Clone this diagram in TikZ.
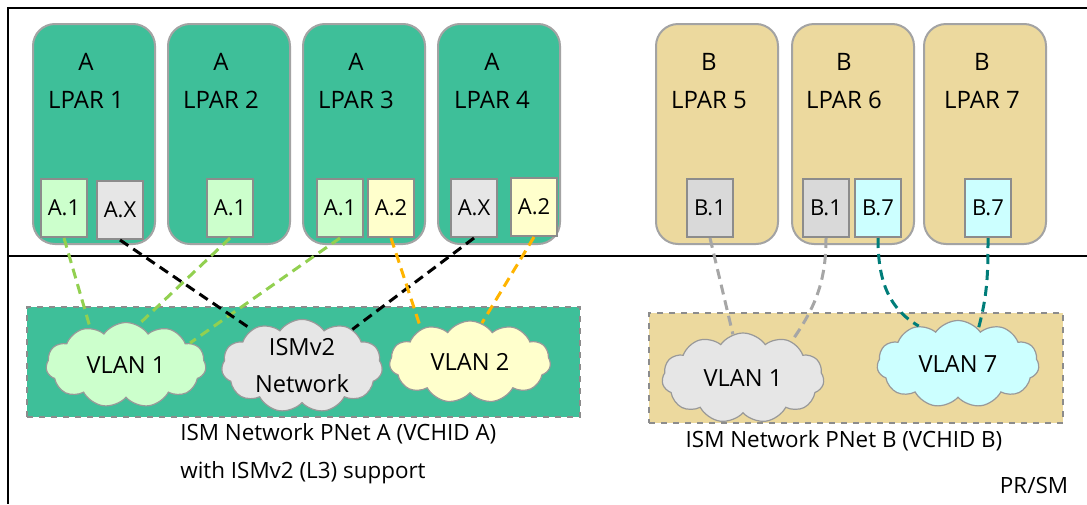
\documentclass[tikz,border=0pt]{standalone}
\usepackage{fontspec}
\setmainfont{Open Sans}
\usetikzlibrary{shapes.symbols}
\definecolor{lpargreen}{HTML}{3EBF99}
\definecolor{lpartan}{HTML}{ECD99E}
\definecolor{nicgreen}{HTML}{CCFFCC}
\definecolor{nicgray}{HTML}{E6E6E6}
\definecolor{nicyellow}{HTML}{FFFFCC}
\definecolor{nicgrayb}{HTML}{D9D9D9}
\definecolor{niccyan}{HTML}{CCFFFF}
\definecolor{edgegray}{HTML}{8C8C8C}
\definecolor{linegreen}{HTML}{92D050}
\definecolor{lineorange}{HTML}{FFB400}
\definecolor{linegray}{HTML}{A6A6A6}
\definecolor{lineteal}{HTML}{007D79}
\begin{document}
\begin{tikzpicture}[x=0.5pt,y=-0.5pt,
  lpar/.style={draw=edgegray!80,line width=1pt,rounded corners=11pt,minimum width=61pt,minimum height=110pt},
  lpartext/.style={align=center,font=\fontsize{12}{19}\selectfont,inner sep=0pt},
  nic/.style={draw=edgegray,line width=1pt,minimum width=23pt,minimum height=29pt,inner sep=0pt,font=\fontsize{11}{12}\selectfont},
  pnet/.style={draw=edgegray,dashed,line width=0.8pt,minimum height=55pt,inner sep=0pt},
  vlan/.style={cloud,cloud puffs=11,cloud puff arc=110,cloud ignores aspect,draw=gray!80,line width=0.6pt,inner sep=0pt,font=\fontsize{11.8}{18.5}\selectfont,align=center},
  conn/.style={dashed,dash pattern=on 5pt off 3pt,line width=1.5pt},
  caption/.style={font=\fontsize{11.2}{19}\selectfont,inner sep=0pt}]
\useasboundingbox (0,0) rectangle (1087,504);
\draw[line width=1pt] (1087,8) -- (8,8) -- (8,504);
\draw[line width=1pt] (8,256) -- (1087,256);

\node[lpar,fill=lpargreen] (lpar1) at (94,134) {};
\node[lpar,fill=lpargreen] (lpar2) at (229,134) {};
\node[lpar,fill=lpargreen] (lpar3) at (364,134) {};
\node[lpar,fill=lpargreen] (lpar4) at (499,134) {};
\node[lpar,fill=lpartan] (lpar5) at (717,134) {};
\node[lpar,fill=lpartan] (lpar6) at (853,134) {};
\node[lpar,fill=lpartan] (lpar7) at (985,134) {};
\node[lpartext] (t1) at (86,81) {A\\LPAR 1};
\node[lpartext] (t2) at (221,81) {A\\LPAR 2};
\node[lpartext] (t3) at (356,81) {A\\LPAR 3};
\node[lpartext] (t4) at (492,81) {A\\LPAR 4};
\node[lpartext] (t5) at (709,81) {B\\LPAR 5};
\node[lpartext] (t6) at (844,81) {B\\LPAR 6};
\node[lpartext] (t7) at (982,81) {B\\LPAR 7};

\node[nic,fill=nicgreen] (a11) at (64,208) {A.1};
\node[nic,fill=nicgray] (ax1) at (120,210) {A.X};
\node[nic,fill=nicgreen] (a12) at (230,208) {A.1};
\node[nic,fill=nicgreen] (a13) at (340,208) {A.1};
\node[nic,fill=nicyellow] (a23) at (391,208) {A.2};
\node[nic,fill=nicgray] (ax4) at (474,208) {A.X};
\node[nic,fill=nicyellow] (a24) at (534,207) {A.2};
\node[nic,fill=nicgrayb] (b15) at (710,208) {B.1};
\node[nic,fill=nicgrayb] (b16) at (826,208) {B.1};
\node[nic,fill=niccyan] (b76) at (878,208) {B.7};
\node[nic,fill=niccyan] (b77) at (988,208) {B.7};

\node[pnet,fill=lpargreen,minimum width=276.5pt] (pneta) at (303.5,362) {};
\node[pnet,fill=lpartan,minimum width=207pt] (pnetb) at (856,368) {};

\node[vlan,fill=nicgreen,minimum width=80pt,minimum height=42.5pt] (vlan1a) at (126,365) {VLAN 1};
\node[vlan,fill=nicgray,minimum width=80.5pt,minimum height=46.5pt] (ismnet) at (302,366) {ISMv2\\Network};
\node[vlan,fill=nicyellow,minimum width=80.5pt,minimum height=41pt] (vlan2a) at (470,362) {VLAN 2};
\node[vlan,fill=nicgray,minimum width=81pt,minimum height=45pt] (vlan1b) at (743,378) {VLAN 1};
\node[vlan,fill=niccyan,minimum width=81pt,minimum height=43.5pt] (vlan7b) at (958,364) {VLAN 7};

\node[caption,anchor=west,align=left] (capa) at (180,454) {ISM Network PNet A (VCHID A)\\with ISMv2 (L3) support};
\node[caption] (capb) at (844,441) {ISM Network PNet B (VCHID B)};
\node[caption] (prsm) at (1034,485) {PR/SM};

\path[conn]
  (a11.south) edge[linegreen] (vlan1a.134)
  (a12.south) edge[linegreen] (vlan1a.73)
  (a13.south) edge[linegreen] (vlan1a.19)
  (ax1.south) edge[black] (ismnet.144)
  (ax4.south) edge[black] (ismnet.36)
  (a23.south) edge[lineorange] (vlan2a.146)
  (a24.south) edge[lineorange] (vlan2a.73)
  (b15.south) edge[linegray] (vlan1b.103)
  (b16.south) edge[linegray,out=-90,in=55] (vlan1b.37)
  (b76.south) edge[lineteal,out=-90,in=150] (vlan7b.136)
  (b77.south) edge[lineteal,out=-90,in=75] (vlan7b.60)
;
\end{tikzpicture}
\end{document}
